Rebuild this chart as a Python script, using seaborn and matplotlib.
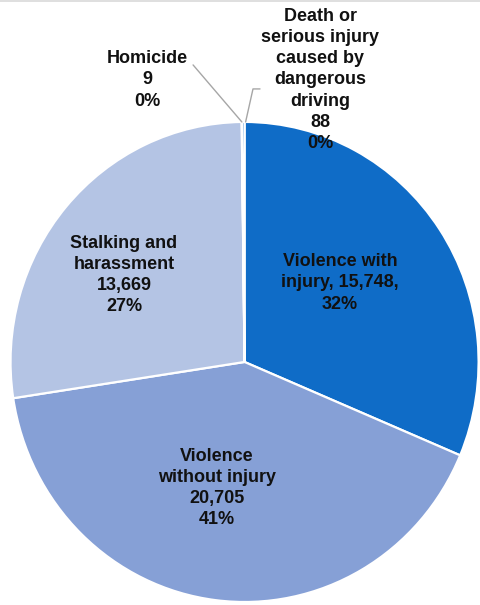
#Pie chart of violence against the person offences by subgroup

#import packages
import numpy as np
from matplotlib import pyplot as plt
import seaborn as sns

#data
labels = ['Violence with\ninjury, 15,748,', 'Violence\nwithout injury', 'Stalking and\nharassment',
          'Homicide', 'Death or\nserious injury\ncaused by\ndangerous\ndriving']
counts = [15748, 20705, 13669, 9, 88]
percents = ['32%', '41%', '27%', '0%', '0%']
colors = ['#0F6CC7', '#86A0D6', '#B4C4E4', '#B4C4E4', '#0F6CC7']

sns.set_theme(style='white')
plt.rcParams['font.family'] = ['Liberation Sans', 'DejaVu Sans']

fig = plt.figure(figsize=(4.8, 6.05), dpi=100)
ax = fig.add_axes([0, 0, 1, 1])
wedges, _ = ax.pie(counts, colors=colors, startangle=90, counterclock=False,
                   wedgeprops=dict(edgecolor='white', linewidth=1.6))
ax.set_aspect('auto')
ax.set_xlim(-1.045, 1.006)
ax.set_ylim(-1.0125, 1.508)
ax.axis('off')

#label text for each slice
def fmt(i):
    if i == 0:
        return labels[i] + '\n' + percents[i]
    return labels[i] + '\n' + f'{counts[i]:,}' + '\n' + percents[i]

label_pos = [(0.408, 0.329), (-0.118, -0.525), (-0.515, 0.3625), (-0.417, 1.175), (0.323, 1.175)]
for i, (x, y) in enumerate(label_pos):
    ax.text(x, y, fmt(i), ha='center', va='center', fontsize=13, fontweight='bold',
            color='#111111', linespacing=1.33)

#leader lines for the two tiny slices
def edge_point(w):
    ang = np.deg2rad((w.theta1 + w.theta2) / 2)
    return np.cos(ang), np.sin(ang)

hx, hy = edge_point(wedges[3])
ax.plot([-0.220, hx], [1.2375, hy], color='#A6A6A6', lw=1)
dx, dy = edge_point(wedges[4])
ax.plot([0.066, 0.036, dx + 0.01], [1.1375, 1.1375, dy], color='#A6A6A6', lw=1)

#thin frame line at top
fig.add_artist(plt.Line2D([0, 1], [0.998, 0.998], color='#D9D9D9', lw=1.2))

fig.savefig('out.png', dpi=100)
